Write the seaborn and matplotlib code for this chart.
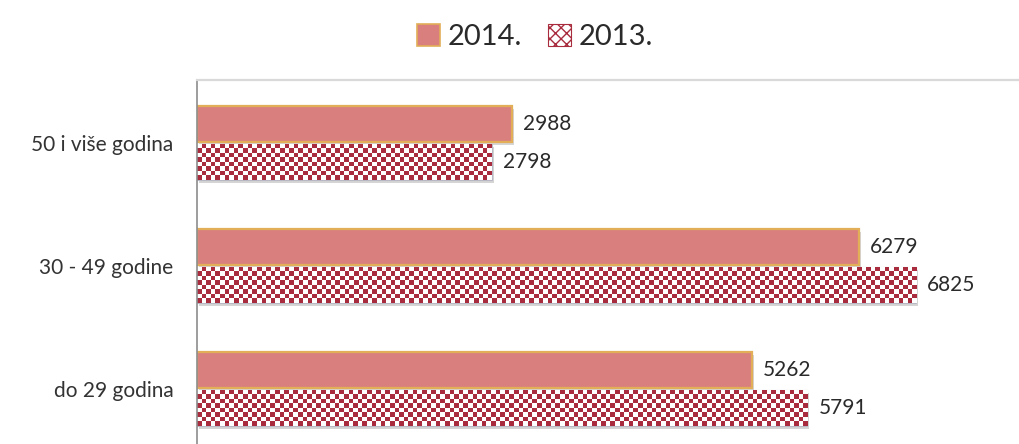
import matplotlib

matplotlib.use("Agg")

import matplotlib.pyplot as plt  # noqa: E402
import matplotlib.patheffects as pe  # noqa: E402
from matplotlib.patches import Rectangle  # noqa: E402
import numpy as np  # noqa: E402
import pandas as pd  # noqa: E402
import seaborn as sns  # noqa: E402

# podaci
categories = ["50 i više godina", "30 - 49 godine", "do 29 godina"]
years = ["2014.", "2013."]
values_2014 = [2988, 6279, 5262]
values_2013 = [2798, 6825, 5791]

PINK = "#d9807f"
GOLD = "#e2ae57"
CHECK = "#a82c3e"

df = pd.DataFrame(
    {
        "grupa": categories * 2,
        "godina": [years[0]] * len(categories) + [years[1]] * len(categories),
        "broj": values_2014 + values_2013,
    }
)

sns.set_theme(style="white")
plt.rcParams["font.family"] = ["Lato", "DejaVu Sans"]

fig = plt.figure(figsize=(10.19, 4.44), dpi=100)
ax = fig.add_axes([197 / 1019, 0, 822 / 1019, 364 / 444])

sns.barplot(
    data=df,
    y="grupa",
    x="broj",
    hue="godina",
    order=categories,
    hue_order=years,
    orient="h",
    width=0.62,
    gap=0.06,
    palette=[PINK, "white"],
    saturation=1,
    legend=False,
    ax=ax,
)

ax.set_xlim(0, 7800)
ax.set_ylim(2.45, -0.51)

shadow = [pe.SimplePatchShadow(offset=(1.5, -2.5), shadow_rgbFace="#888888", alpha=0.35), pe.Normal()]

# 2014 - ruzicasti stupci sa zlatnim rubom
for p in ax.containers[0]:
    p.set_edgecolor(GOLD)
    p.set_linewidth(1.6)
    p.set_path_effects(shadow)

# 2013 - karirani uzorak (tekstura odrezana na oblik stupca)
cell = 4.6
dark = np.array(matplotlib.colors.to_rgba(CHECK))
white = np.array([1.0, 1.0, 1.0, 1.0])
fig.canvas.draw()
for p in ax.containers[1]:
    p.set_edgecolor("#b8b8c4")
    p.set_linewidth(0.8)
    p.set_path_effects(shadow)
    x0, y0, w, h = p.get_x(), p.get_y(), p.get_width(), p.get_height()
    (px0, py0), (px1, py1) = ax.transData.transform([(x0, y0), (x0 + w, y0 + h)])
    nx = max(1, int(round(abs(px1 - px0) / cell)))
    ny = max(1, int(round(abs(py1 - py0) / cell)))
    mask = np.add.outer(np.arange(ny), np.arange(nx)) % 2
    img = np.where(mask[..., None] == 1, dark, white)
    im = ax.imshow(
        img,
        extent=(x0, x0 + w, y0 + h, y0),
        aspect="auto",
        interpolation="nearest",
        zorder=p.get_zorder() + 0.1,
    )
    im.set_clip_path(p)

ax.set_xlim(0, 7800)
ax.set_ylim(2.45, -0.51)

for cont, vals in zip(ax.containers, [values_2014, values_2013]):
    ax.bar_label(cont, labels=[str(v) for v in vals], padding=8, fontsize=15, color="#2a2a2a")

ax.set_xticks([])
ax.set_xlabel("")
ax.set_ylabel("")
ax.tick_params(axis="y", length=0, pad=17, labelsize=15, labelcolor="#333333")

sns.despine(ax=ax, top=False, right=True, bottom=True, left=False)
ax.spines["top"].set_color("#d9d9d9")
ax.spines["top"].set_linewidth(1.6)
ax.spines["left"].set_color("#8c8c8c")
ax.spines["left"].set_linewidth(1.2)

handles = [
    Rectangle((0, 0), 1, 1, facecolor=PINK, edgecolor=GOLD, linewidth=1.2),
    Rectangle((0, 0), 1, 1, facecolor="white", edgecolor=CHECK, hatch="xxx", linewidth=0.8),
]
fig.legend(
    handles,
    years,
    loc="center",
    bbox_to_anchor=(0.525, 0.917),
    ncol=2,
    frameon=False,
    fontsize=21,
    handlelength=0.8,
    handleheight=0.8,
    handletextpad=0.25,
    columnspacing=0.9,
    labelcolor="#2a2a2a",
)

fig.savefig("out.png", dpi=100)
plt.close(fig)
